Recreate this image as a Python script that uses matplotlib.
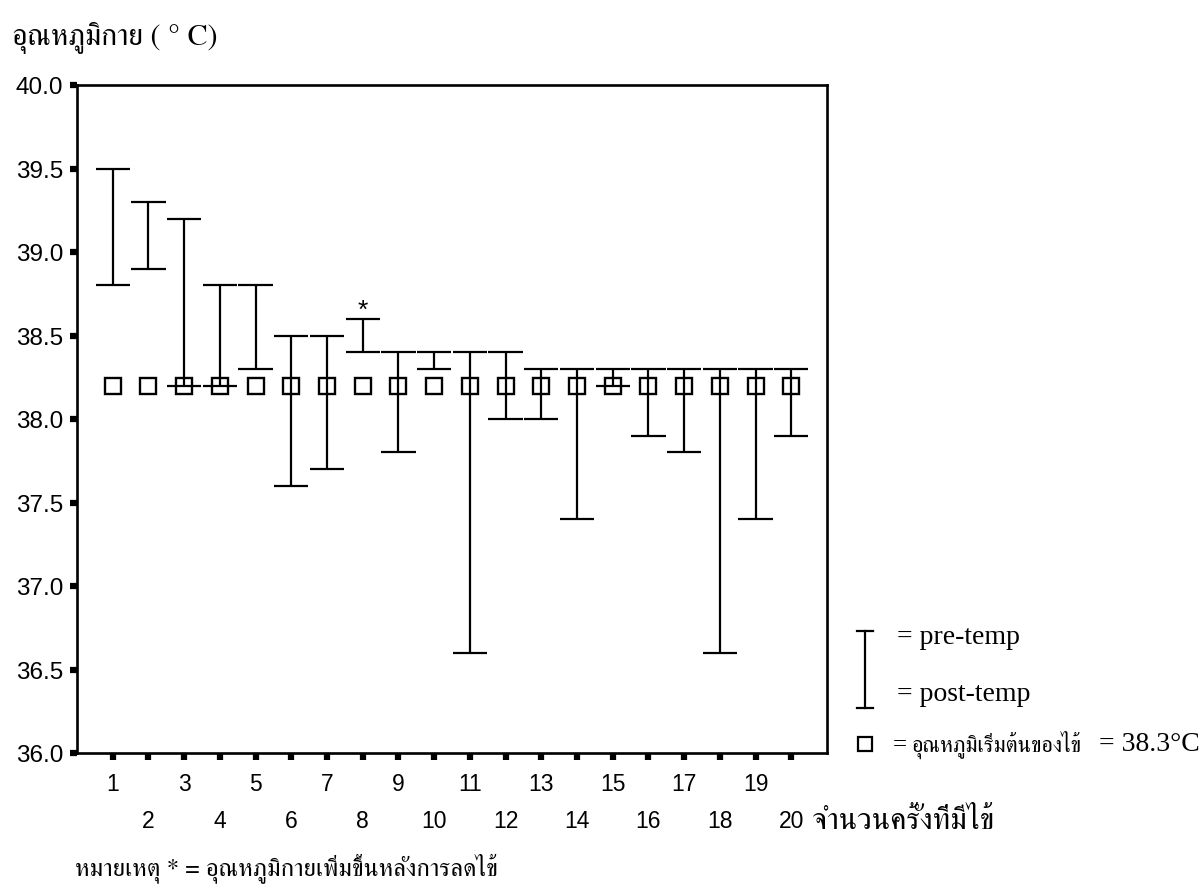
import matplotlib
matplotlib.use('Agg')
import matplotlib.pyplot as plt
import numpy as np
from matplotlib import font_manager
from matplotlib.ft2font import FT2Font

# values
visits = list(range(1, 21))
pre_temp = [39.5, 39.3, 39.2, 38.8, 38.8, 38.5, 38.5, 38.6, 38.4, 38.4,
            38.4, 38.4, 38.3, 38.3, 38.3, 38.3, 38.3, 38.3, 38.3, 38.3]
post_temp = [38.8, 38.9, 38.2, 38.2, 38.3, 37.6, 37.7, 38.4, 37.8, 38.3,
             36.6, 38.0, 38.0, 37.4, 38.2, 37.9, 37.8, 36.6, 37.4, 37.9]
fever_start = [38.2, 38.2, 38.2, 38.2, 38.2, 38.2, 38.2, 38.2, 38.2, 38.2,
               38.2, 38.2, 38.2, 38.2, 38.2, 38.2, 38.2, 38.2, 38.2, 38.2]
rise_visits = [8]
y_ticks = [36.0, 36.5, 37.0, 37.5, 38.0, 38.5, 39.0, 39.5, 40.0]


def find_font(char, prefer=()):
    # look for an installed font that has the glyph
    names = []
    for f in font_manager.fontManager.ttflist:
        try:
            if FT2Font(f.fname).get_char_index(ord(char)):
                names.append(f.name)
        except Exception:
            pass
    for p in prefer:
        for n in names:
            if p.lower() in n.lower():
                return n
    return names[0] if names else 'DejaVu Sans'


thai = find_font('อ', prefer=('Serif', 'Noto', 'Garuda', 'Loma'))
names = [f.name for f in font_manager.fontManager.ttflist]
narrow = 'Liberation Sans Narrow' if 'Liberation Sans Narrow' in names else 'Liberation Sans'
thai_fam = [thai, 'Liberation Serif', 'DejaVu Sans']
serif_fam = ['Liberation Serif', 'DejaVu Serif']

W, H = 1204, 895
fig = plt.figure(figsize=(W / 100, H / 100), dpi=100)
ax = fig.add_axes([77 / W, 1 - 754 / H, 750 / W, 668 / H])

x = np.array(visits)
cap = 0.48
ax.vlines(x, post_temp, pre_temp, color='black', lw=1.6)
ax.hlines(pre_temp, x - cap, x + cap, color='black', lw=1.6)
ax.hlines(post_temp, x - cap, x + cap, color='black', lw=1.6)
ax.plot(visits, fever_start, 's', mfc='none', mec='black', ms=11, mew=1.7, zorder=3)

for v in rise_visits:
    ax.annotate('*', xy=(v, pre_temp[v - 1]), xytext=(0, -2), textcoords='offset points',
                ha='center', va='bottom', fontsize=19, family='Liberation Sans')

ax.set_xlim(0, 21)
ax.set_ylim(36.0, 40.0)
ax.set_yticks(y_ticks)
ax.set_yticklabels(['%.1f' % t for t in y_ticks], family='Liberation Sans', fontsize=17.5)
ax.set_xticks(visits)
ax.set_xticklabels([str(v) for v in visits], family=narrow, fontsize=16.5)
ax.tick_params(direction='out', length=5, width=4.5, color='black')
ax.tick_params(axis='y', pad=5)
ax.tick_params(axis='x', pad=9)
for i, t in enumerate(ax.xaxis.get_major_ticks()):
    if i % 2 == 1:
        t.set_pad(35)
for s in ax.spines.values():
    s.set_linewidth(1.9)

# titles and notes
fig.text(12 / W, 1 - 38 / H, 'อุณหภูมิกาย ( ° C)', family=thai_fam, fontsize=21.5,
         va='center', ha='left')
fig.text(812 / W, 1 - 822 / H, 'จำนวนครั้งที่มีไข้', family=thai_fam, fontsize=22,
         va='center', ha='left')
fig.text(75 / W, 1 - 868 / H, 'หมายเหตุ * = อุณหภูมิกายเพิ่มขึ้นหลังการลดไข้',
         family=thai_fam, fontsize=18, va='center', ha='left')

# legend drawn by hand on the right
lx = 865 / W
fig.add_artist(plt.Line2D([lx, lx], [1 - 632 / H, 1 - 709 / H], color='black', lw=1.6))
for yy in (632, 709):
    fig.add_artist(plt.Line2D([lx - 8 / W, lx + 8 / W], [1 - yy / H, 1 - yy / H],
                              color='black', lw=1.6))
fig.text(897 / W, 1 - 638 / H, '= pre-temp', family=serif_fam, fontsize=20, va='center')
fig.text(897 / W, 1 - 695 / H, '= post-temp', family=serif_fam, fontsize=20, va='center')
fig.add_artist(plt.Line2D([lx], [1 - 745 / H], marker='s', mfc='none', mec='black',
                          ms=10, mew=1.6))
fig.text(893 / W, 1 - 745 / H, '=', family=serif_fam, fontsize=18, va='center')
fig.text(912 / W, 1 - 745 / H, 'อุณหภูมิเริ่มต้นของไข้', family=thai_fam, fontsize=16,
         va='center')
fig.text(1099 / W, 1 - 745 / H, '= 38.3°C', family=serif_fam, fontsize=20, va='center')

fig.savefig('out.png', dpi=100)
